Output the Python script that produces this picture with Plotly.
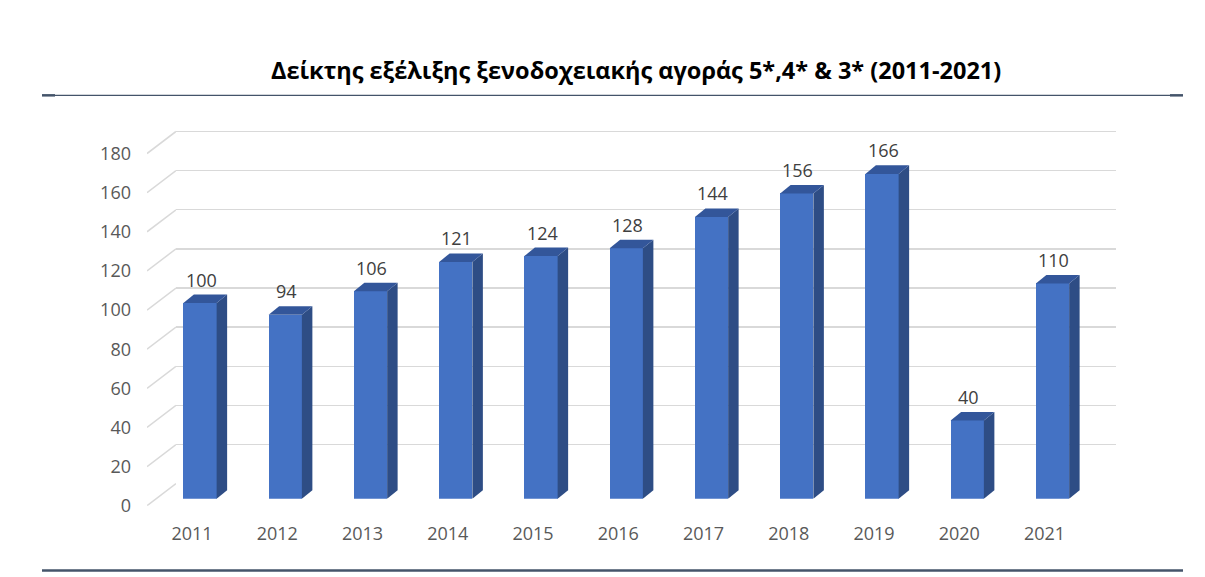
import plotly.graph_objects as go

# ---- data ----
years = ["2011", "2012", "2013", "2014", "2015", "2016", "2017", "2018", "2019", "2020", "2021"]
values = [100, 94, 106, 121, 124, 128, 144, 156, 166, 40, 110]
y_ticks = [0, 20, 40, 60, 80, 100, 120, 140, 160, 180]
title_text = "Δείκτης εξέλιξης ξενοδοχειακής αγοράς 5*,4* & 3* (2011-2021)"

# ---- geometry / style ----
W, H = 1205, 577          # reference picture size (coordinates below are in this space)
H_LAYOUT = 590            # captured page height
VS = H_LAYOUT / H
FONT = "Open Sans"
FRONT = "#4472C4"
SIDE = "#2E4D85"
TOP = "#33569A"
GRID = "#D9D9D9"
RULE = "#44546A"
PX_PER_UNIT = 1.95       # vertical pixels per value unit (reference space)
CAT_PX = 85.25           # pixels per category
BAR_W = 0.39             # bar width in category units
DX = 10.5 / CAT_PX       # bar depth (x) in category units
DY = 8.5 / PX_PER_UNIT   # bar depth (y) in value units
FLOOR = 22 / PX_PER_UNIT # floor depth (front edge to back wall) in value units
YMAX = 200


def px(x):
    return x / W


def py(y_top):
    return 1 - y_top / H


n = len(years)
idx = list(range(n))

fig = go.Figure()

# back wall gridlines (subplot xy, drawn first)
fig.add_trace(go.Scatter(x=[0, 1], y=[None, None], xaxis="x", yaxis="y",
                         showlegend=False, hoverinfo="skip"))

# floor/side diagonals (subplot x2y2)
for t in y_ticks:
    fig.add_trace(go.Scatter(x=[0, 1], y=[t - FLOOR, t], mode="lines",
                             line=dict(color=GRID, width=1.5),
                             xaxis="x2", yaxis="y2", showlegend=False, hoverinfo="skip"))

# bars front faces (subplot x3y3)
fig.add_trace(go.Bar(x=idx, y=values, width=BAR_W, marker=dict(color=FRONT, line=dict(width=0)),
                     xaxis="x3", yaxis="y3", showlegend=False, hoverinfo="skip"))

# side and top faces
for i, v in enumerate(values):
    xr = i + BAR_W / 2
    xl = i - BAR_W / 2
    fig.add_trace(go.Scatter(
        x=[xr, xr + DX, xr + DX, xr, xr], y=[0, DY, v + DY, v, 0],
        mode="lines", fill="toself", fillcolor=SIDE, line=dict(width=0, color=SIDE),
        xaxis="x3", yaxis="y3", showlegend=False, hoverinfo="skip"))
    fig.add_trace(go.Scatter(
        x=[xl, xr, xr + DX, xl + DX, xl], y=[v, v, v + DY, v + DY, v],
        mode="lines", fill="toself", fillcolor=TOP, line=dict(width=0, color=TOP),
        xaxis="x3", yaxis="y3", showlegend=False, hoverinfo="skip"))

annotations = [
    dict(x=i, y=v, xref="x3", yref="y3", text=str(v), showarrow=False,
         yshift=23 * VS, xshift=1, font=dict(family=FONT, size=18, color="#404040"))
    for i, v in enumerate(values)
]
annotations.append(dict(x=px(636), y=py(70), xref="paper", yref="paper", text="<b>" + title_text + "</b>",
                        showarrow=False, xanchor="center", yanchor="middle",
                        font=dict(family=FONT, size=23.5, color="#000000")))

shapes = [
    dict(type="line", xref="paper", yref="paper", x0=px(55), x1=px(1170), y0=py(95), y1=py(95),
         line=dict(color=RULE, width=1.2)),
    dict(type="line", xref="paper", yref="paper", x0=px(42), x1=px(55), y0=py(95), y1=py(95),
         line=dict(color=RULE, width=2.5)),
    dict(type="line", xref="paper", yref="paper", x0=px(1170), x1=px(1183), y0=py(95), y1=py(95),
         line=dict(color=RULE, width=2.5)),
    dict(type="line", xref="paper", yref="paper", x0=px(42), x1=px(1183), y0=py(568.5), y1=py(568.5),
         line=dict(color=RULE, width=2.5)),
]

back_bottom = 482
front_bottom = 497
floor_front = back_bottom + 22

fig.update_layout(
    width=W, height=H_LAYOUT,
    margin=dict(l=0, r=0, t=0, b=0),
    paper_bgcolor="white", plot_bgcolor="rgba(0,0,0,0)",
    font=dict(family=FONT),
    annotations=annotations,
    shapes=shapes,
    bargap=0,
    hovermode=False,
    xaxis=dict(domain=[px(176), px(1116)], range=[0, 1], visible=False, fixedrange=True),
    yaxis=dict(domain=[py(back_bottom), py(back_bottom - YMAX * PX_PER_UNIT)], range=[0, YMAX],
               tickvals=y_ticks, showticklabels=False, showgrid=True, gridcolor=GRID, gridwidth=1.5,
               zeroline=False, showline=False, anchor="x", fixedrange=True),
    xaxis2=dict(domain=[px(147), px(176)], range=[0, 1], visible=False, anchor="y2", fixedrange=True),
    yaxis2=dict(domain=[py(floor_front), py(back_bottom - YMAX * PX_PER_UNIT)], range=[-FLOOR, YMAX],
                tickvals=[t - FLOOR for t in y_ticks], ticktext=[str(t) for t in y_ticks],
                showgrid=False, zeroline=False, showline=False, anchor="x2",
                ticks="", ticklabelstandoff=15,
                tickfont=dict(family=FONT, size=18, color="#595959"), fixedrange=True),
    xaxis3=dict(domain=[px(200 - CAT_PX / 2), px(200 + CAT_PX * (n - 0.5))], range=[-0.5, n - 0.5],
                tickvals=idx, ticktext=years, showgrid=False, zeroline=False, showline=False,
                ticks="", ticklabelstandoff=int(round(22 * VS)), ticklabelshift=-8, anchor="y3",
                tickfont=dict(family=FONT, size=18, color="#595959"), fixedrange=True),
    yaxis3=dict(domain=[py(front_bottom), py(front_bottom - YMAX * PX_PER_UNIT)], range=[0, YMAX],
                visible=False, anchor="x3", fixedrange=True),
)

post = (
    "document.documentElement.style.margin='0px';"
    "document.documentElement.style.overflow='hidden';"
    "document.body.style.margin='0px';"
    "document.body.style.overflow='hidden';"
    "var gd=document.getElementById('{plot_id}');"
    "gd.style.position='absolute';gd.style.left='0px';gd.style.top='0px';"
)

fig.write_html("out.html", config={"displayModeBar": False, "staticPlot": True}, post_script=post)
